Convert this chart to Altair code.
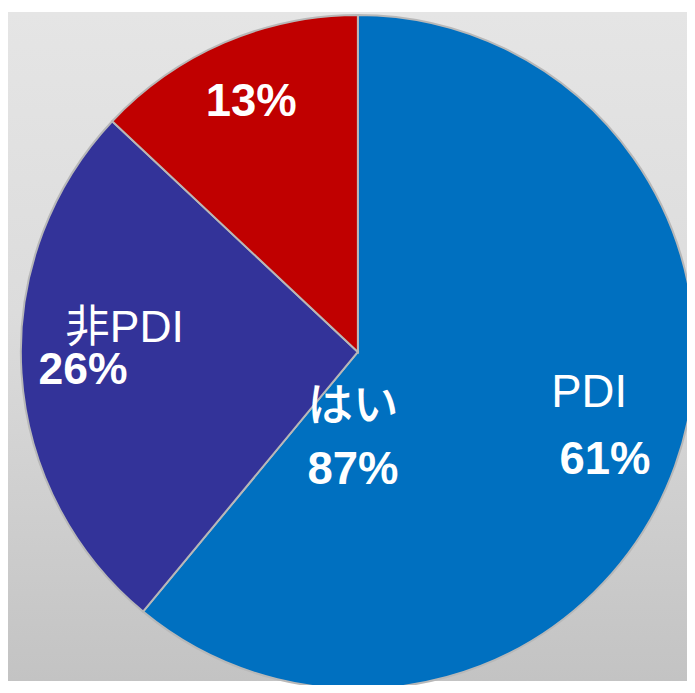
import altair as alt
import pandas as pd

# data
categories = ["PDI", "非PDI", "その他"]
values = [61, 26, 13]
colors = ["#0070C0", "#333399", "#C00000"]
yes_label = "はい"
yes_value = 87

df = pd.DataFrame({"cat": categories, "value": values, "ord": [0, 1, 2]})

W, H = 687, 677
CX, CY = 354, 344
R = 341

bg = alt.Chart(pd.DataFrame({"a": [0]})).mark_rect(
    color=alt.Gradient(
        gradient="linear",
        stops=[
            alt.GradientStop(color="#e5e5e5", offset=0),
            alt.GradientStop(color="#dcdcdc", offset=0.45),
            alt.GradientStop(color="#c3c3c3", offset=1),
        ],
        x1=0, x2=0, y1=0, y2=1,
    )
).encode(x=alt.value(0), x2=alt.value(W), y=alt.value(0), y2=alt.value(H))

pie = alt.Chart(df).mark_arc(
    outerRadius=R, stroke="#b8b8b8", strokeWidth=2
).encode(
    theta=alt.Theta("value:Q", stack=True),
    color=alt.Color("cat:N", scale=alt.Scale(domain=categories, range=colors), legend=None),
    order=alt.Order("ord:Q"),
    x=alt.value(CX),
    y=alt.value(CY),
)

LAT = "Liberation Sans, Arial, Noto Sans CJK JP"
CJK = "Noto Sans CJK JP, Liberation Sans"


def label(text, x, y, size=46, weight="normal", font=LAT):
    return alt.Chart(pd.DataFrame({"t": [text]})).mark_text(
        color="white", fontSize=size, fontWeight=weight,
        font=font, align="center", baseline="alphabetic",
    ).encode(text="t:N", x=alt.value(x - 8), y=alt.value(y - 8))


texts = [
    label(categories[0], 596, 408, 46),
    label(f"{values[0]}%", 612, 475, 46, "bold"),
    label(categories[1], 126, 342, 45),
    label(f"{values[1]}%", 84, 384, 45, "bold"),
    label(f"{values[2]}%", 254, 113, 46, "bold"),
    label(yes_label, 357, 422, 46, 500, font=CJK),
    label(f"{yes_value}%", 357, 486, 46, "bold"),
]

chart = alt.layer(bg, pie, *texts).properties(
    width=W, height=H, autosize="none", padding=0
).configure_view(strokeWidth=0)

chart.save("out.html", embed_options={"renderer": "svg", "actions": False})
